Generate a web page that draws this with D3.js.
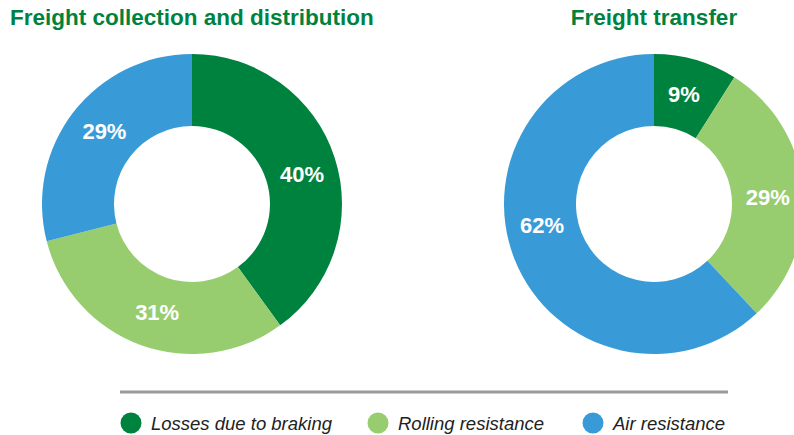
<!DOCTYPE html>
<html>
<head>
<meta charset="utf-8">
<script src="https://cdn.jsdelivr.net/npm/d3@7"></script>
<style>
  html, body { margin: 0; padding: 0; background: #fff; }
  svg { display: block; font-family: "Liberation Sans", Arial, sans-serif; }
</style>
</head>
<body>
<svg id="chart" width="794" height="435"></svg>
<script>
// Energy loss shares by category
const categories = ["Losses due to braking", "Rolling resistance", "Air resistance"];
const colors = ["#00823f", "#97cd6f", "#389bd7"];
const chartTitles = ["Freight collection and distribution", "Freight transfer"];
const collectionValues = [40, 31, 29];
const transferValues = [9, 29, 62];

const svg = d3.select("#chart");
const outerR = 150, innerR = 78, labelR = 114;
const centers = [[192, 204], [654, 204]];
const seriesList = [collectionValues, transferValues];
// small angular nudges (degrees) so labels sit comfortably inside each slice
const labelNudge = [[3, -2, 2], [-1, 2, 11]];

const color = d3.scaleOrdinal().domain(categories).range(colors);
const pie = d3.pie().sort(null).value(d => d.value);
const arc = d3.arc().innerRadius(innerR).outerRadius(outerR);

seriesList.forEach((vals, i) => {
  const data = categories.map((c, j) => ({ category: c, value: vals[j] }));
  const g = svg.append("g").attr("transform", `translate(${centers[i][0]},${centers[i][1]})`);
  const arcs = pie(data);
  g.selectAll("path").data(arcs).join("path")
    .attr("d", arc)
    .attr("fill", d => color(d.data.category));
  g.selectAll("text").data(arcs).join("text")
    .attr("transform", (d, j) => {
      const a = (d.startAngle + d.endAngle) / 2 + labelNudge[i][j] * Math.PI / 180;
      return `translate(${labelR * Math.sin(a)},${-labelR * Math.cos(a)})`;
    })
    .attr("text-anchor", "middle")
    .attr("dy", "0.36em")
    .attr("fill", "#fff")
    .attr("font-weight", "bold")
    .attr("font-size", 22)
    .text(d => d.data.value + "%");
});

// Titles
svg.append("text").attr("x", 10).attr("y", 25)
  .attr("fill", "#00823f").attr("font-weight", "bold").attr("font-size", 22.5)
  .text(chartTitles[0]);
svg.append("text").attr("x", 654).attr("y", 25).attr("text-anchor", "middle")
  .attr("fill", "#00823f").attr("font-weight", "bold").attr("font-size", 22.5)
  .text(chartTitles[1]);

// Legend
svg.append("line").attr("x1", 120).attr("x2", 728).attr("y1", 392).attr("y2", 392)
  .attr("stroke", "#999").attr("stroke-width", 3);
const legendX = [131, 378, 593];
const legend = svg.append("g").selectAll("g").data(categories).join("g")
  .attr("transform", (d, i) => `translate(${legendX[i]},423)`);
legend.append("circle").attr("r", 10.5).attr("fill", d => color(d));
legend.append("text").attr("x", 20).attr("y", 7)
  .attr("font-style", "italic").attr("font-size", 18.5).attr("fill", "#222")
  .text(d => d);
</script>
</body>
</html>
